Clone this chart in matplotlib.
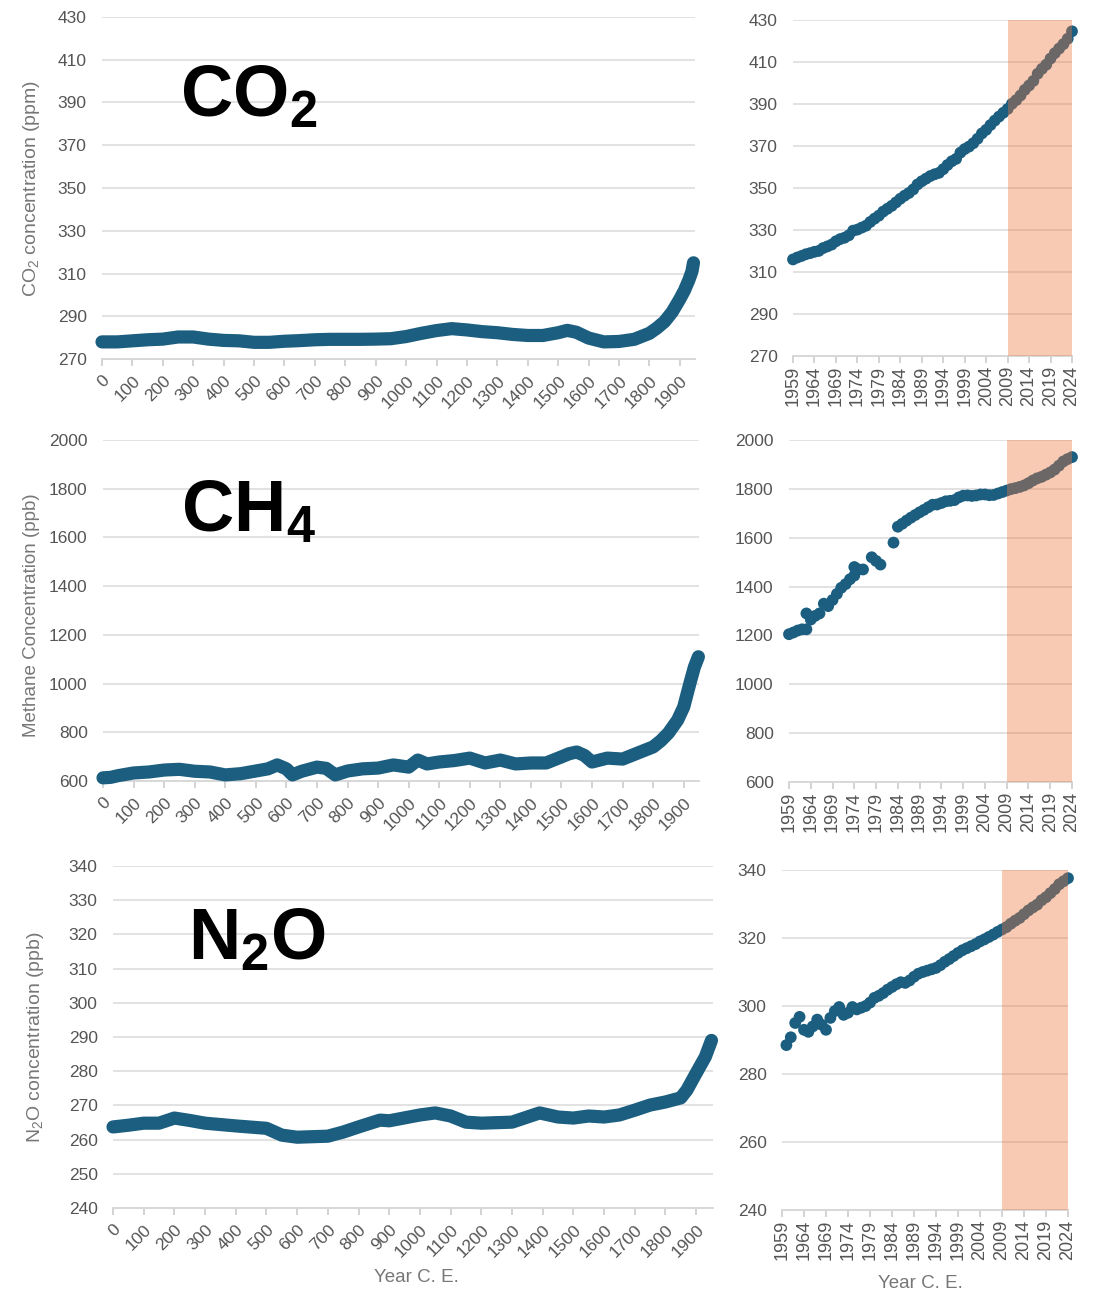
import numpy as np
import matplotlib.pyplot as plt

plt.rcParams['font.family'] = ['Liberation Sans', 'DejaVu Sans']
plt.rcParams['mathtext.fontset'] = 'custom'
plt.rcParams['mathtext.rm'] = 'Liberation Sans'
plt.rcParams['mathtext.bf'] = 'Liberation Sans:bold'
plt.rcParams['mathtext.it'] = 'Liberation Sans:italic'

# ---- long records (year C.E. vs concentration) ----
co2_long_years = [0, 50, 100, 150, 200, 250, 300, 350, 400, 450, 500, 550, 600, 650, 700, 750,
                  800, 850, 900, 950, 1000, 1050, 1100, 1150, 1200, 1250, 1300, 1350, 1400, 1450,
                  1500, 1530, 1560, 1600, 1650, 1700, 1750, 1800, 1825, 1850, 1875, 1900, 1915,
                  1930, 1940, 1945]
co2_long_vals = [278, 278, 278.5, 279, 279.3, 280.3, 280.3, 279.3, 278.7, 278.5, 277.8, 277.8,
                 278.3, 278.6, 279, 279.2, 279.2, 279.2, 279.3, 279.5, 280.5, 282, 283.3, 284.2,
                 283.6, 282.8, 282.3, 281.5, 281, 281, 282.3, 283.4, 282.5, 279.8, 278, 278.2,
                 279.2, 282, 284.5, 287.5, 292, 298, 302, 307, 311, 315]

ch4_long_years = [0, 25, 50, 100, 150, 200, 250, 300, 350, 400, 450, 500, 540, 570, 600, 620,
                  650, 700, 730, 760, 800, 850, 900, 950, 1000, 1030, 1060, 1100, 1150, 1200,
                  1250, 1300, 1350, 1400, 1450, 1500, 1525, 1550, 1575, 1600, 1650, 1700, 1750,
                  1800, 1825, 1850, 1880, 1900, 1920, 1935, 1948]
ch4_long_vals = [613, 615, 622, 633, 637, 645, 648, 640, 637, 625, 630, 641, 650, 666, 650, 625,
                 640, 657, 652, 625, 641, 650, 653, 666, 657, 686, 670, 678, 684, 694, 674, 686,
                 670, 674, 674, 699, 712, 719, 705, 678, 694, 690, 715, 740, 765, 797, 850, 904,
                 1000, 1068, 1110]

n2o_long_years = [0, 50, 100, 150, 200, 250, 300, 400, 500, 550, 600, 700, 750, 800, 870, 900,
                  1000, 1050, 1100, 1150, 1200, 1300, 1350, 1390, 1450, 1500, 1550, 1600, 1650,
                  1700, 1750, 1800, 1850, 1870, 1900, 1930, 1950]
n2o_long_vals = [263.7, 264.2, 264.8, 264.8, 266.3, 265.6, 264.8, 264.0, 263.3, 261.3, 260.7,
                 261.0, 262.2, 263.7, 265.7, 265.5, 267.2, 267.8, 266.9, 265.1, 264.8, 265.1,
                 266.6, 267.8, 266.6, 266.3, 266.9, 266.6, 267.2, 268.6, 270.1, 271.0, 272.2,
                 274.5, 279.4, 284.2, 289.0]

# ---- recent records (annual) ----
co2_recent_years = list(range(1959, 2025))
co2_recent_vals = [315.98, 316.91, 317.64, 318.45, 318.99, 319.62, 320.04, 321.37, 322.18, 323.05,
                   324.62, 325.68, 326.32, 327.46, 329.68, 330.19, 331.13, 332.03, 333.84, 335.41,
                   336.84, 338.76, 340.12, 341.48, 343.15, 344.87, 346.35, 347.61, 349.31, 351.69,
                   353.20, 354.45, 355.70, 356.54, 357.21, 358.96, 360.97, 362.74, 363.88, 366.84,
                   368.54, 369.71, 371.32, 373.45, 375.98, 377.70, 379.98, 382.09, 384.02, 385.83,
                   387.64, 390.10, 391.85, 394.06, 396.74, 398.81, 401.01, 404.41, 406.76, 408.72,
                   411.65, 414.21, 416.41, 418.53, 421.08, 424.61]

ch4_recent_years = [1959, 1960, 1961, 1962, 1963, 1963, 1964, 1965, 1966, 1967, 1968, 1969, 1970,
                    1971, 1972, 1973, 1974, 1974, 1975, 1976, 1978, 1979, 1980, 1983] + list(range(1984, 2025))
ch4_recent_vals = [1205, 1212, 1220, 1225, 1225, 1290, 1265, 1280, 1290, 1330, 1320, 1345, 1370,
                   1395, 1410, 1430, 1445, 1480, 1470, 1470, 1520, 1505, 1490, 1580,
                   1645, 1657, 1670, 1682, 1693, 1704, 1714, 1725, 1735, 1736, 1742, 1749, 1751,
                   1754, 1765, 1772, 1773, 1771, 1773, 1777, 1777, 1774, 1775, 1781, 1787, 1793,
                   1799, 1803, 1808, 1814, 1823, 1834, 1843, 1849, 1858, 1867, 1879, 1895, 1912,
                   1922, 1930]

n2o_recent_years = list(range(1960, 2025))
n2o_recent_vals = [288.5, 290.8, 295.0, 296.8, 293.0, 292.4, 294.0, 296.0, 294.5, 293.0, 296.5,
                   298.5, 299.7, 297.4, 298.0, 299.7, 299.0, 299.5, 300.0, 301.0, 302.4, 303.0,
                   303.8, 304.8, 305.6, 306.4, 307.0, 306.8, 307.5, 308.6, 309.5, 310.0, 310.4,
                   310.8, 311.2, 312.0, 313.0, 313.8, 314.7, 315.6, 316.4, 317.0, 317.6, 318.2,
                   319.0, 319.6, 320.3, 321.0, 321.8, 322.5, 323.2, 324.2, 325.1, 325.9, 327.0,
                   328.1, 329.0, 329.8, 331.1, 332.0, 333.2, 334.4, 335.8, 336.7, 337.6]

long_ticks = list(range(0, 2000, 100))
recent_ticks = list(range(1959, 2025, 5))

BLUE = '#1b5e80'
GRID = '#e2e2e2'
TXT = '#555555'

W, H = 1096, 1291
fig = plt.figure(figsize=(W / 100, H / 100), dpi=100)


def px_axes(x0, y0, x1, y1):
    return fig.add_axes([x0 / W, 1 - y1 / H, (x1 - x0) / W, (y1 - y0) / H])


def style(ax, yticks):
    ax.set_yticks(yticks)
    ax.set_ylim(yticks[0], yticks[-1])
    ax.yaxis.grid(True, color=GRID, lw=1.4)
    ax.set_axisbelow(True)
    for s in ['top', 'right', 'left']:
        ax.spines[s].set_visible(False)
    ax.spines['bottom'].set_color('#d8d8d8')
    ax.spines['bottom'].set_linewidth(1.4)
    ax.tick_params(axis='y', length=0, pad=11, labelsize=12.5, labelcolor=TXT)
    ax.tick_params(axis='x', length=5, color='#cccccc', width=1.2, labelsize=12.5, labelcolor=TXT)


def long_panel(ax, years, vals, yticks, xmax):
    ax.plot(years, vals, color=BLUE, lw=9.5, solid_capstyle='round', solid_joinstyle='round',
            clip_on=False, zorder=3)
    style(ax, yticks)
    ax.set_xlim(0, xmax)
    ax.set_xticks(long_ticks)
    ax.set_xticklabels([str(t) for t in long_ticks], rotation=45, ha='right',
                       rotation_mode='anchor')
    ax.tick_params(axis='x', pad=5)


def recent_panel(ax, years, vals, yticks):
    ax.scatter(years, vals, s=72, color=BLUE, edgecolors='none', clip_on=False, zorder=3)
    ax.axvspan(2009, 2024, color='#ef763c', alpha=0.38, lw=0, zorder=4)
    style(ax, yticks)
    ax.set_xlim(1959, 2024)
    ax.set_xticks(recent_ticks)
    ax.set_xticklabels([str(t) for t in recent_ticks], rotation=90)
    ax.tick_params(axis='x', pad=2, labelsize=13)


# CO2
ax1 = px_axes(102, 17, 695, 359)
long_panel(ax1, co2_long_years, co2_long_vals, list(range(270, 431, 20)), 1950)
ax2 = px_axes(793, 20, 1072, 356)
recent_panel(ax2, co2_recent_years, co2_recent_vals, list(range(270, 431, 20)))

# CH4
ax3 = px_axes(103, 440, 699, 781)
long_panel(ax3, ch4_long_years, ch4_long_vals, list(range(600, 2001, 200)), 1950)
ax4 = px_axes(789, 440, 1072, 782)
recent_panel(ax4, ch4_recent_years, ch4_recent_vals, list(range(600, 2001, 200)))

# N2O
ax5 = px_axes(113, 866, 713, 1208)
long_panel(ax5, n2o_long_years, n2o_long_vals, list(range(240, 341, 10)), 1955)
ax6 = px_axes(782, 870, 1068, 1210)
recent_panel(ax6, n2o_recent_years, n2o_recent_vals, list(range(240, 341, 20)))

# axis titles
fig.text(32 / W, 1 - 188 / H, 'CO$_2$ concentration (ppm)', rotation=90, ha='center', va='center',
         fontsize=14, color='#777777')
fig.text(32 / W, 1 - 615 / H, 'Methane Concentration (ppb)', rotation=90, ha='center', va='center',
         fontsize=13.5, color='#777777')
fig.text(36 / W, 1 - 1037 / H, 'N$_2$O concentration (ppb)', rotation=90, ha='center', va='center',
         fontsize=14, color='#777777')
fig.text(416 / W, 1 - 1277 / H, 'Year C. E.', ha='center', va='center', fontsize=13.5, color='#777777')
fig.text(920 / W, 1 - 1283 / H, 'Year C. E.', ha='center', va='center', fontsize=13.5, color='#777777')

# big gas names
fig.text(180 / W, 1 - 117 / H, r'$\mathbf{CO}_{\mathbf{2}}$', fontsize=52, ha='left', va='baseline')
fig.text(181 / W, 1 - 532 / H, r'$\mathbf{CH}_{\mathbf{4}}$', fontsize=52, ha='left', va='baseline')
fig.text(188 / W, 1 - 960 / H, r'$\mathbf{N}_{\mathbf{2}}\mathbf{O}$', fontsize=52, ha='left', va='baseline')

fig.savefig('out.png', dpi=100, facecolor='white')
